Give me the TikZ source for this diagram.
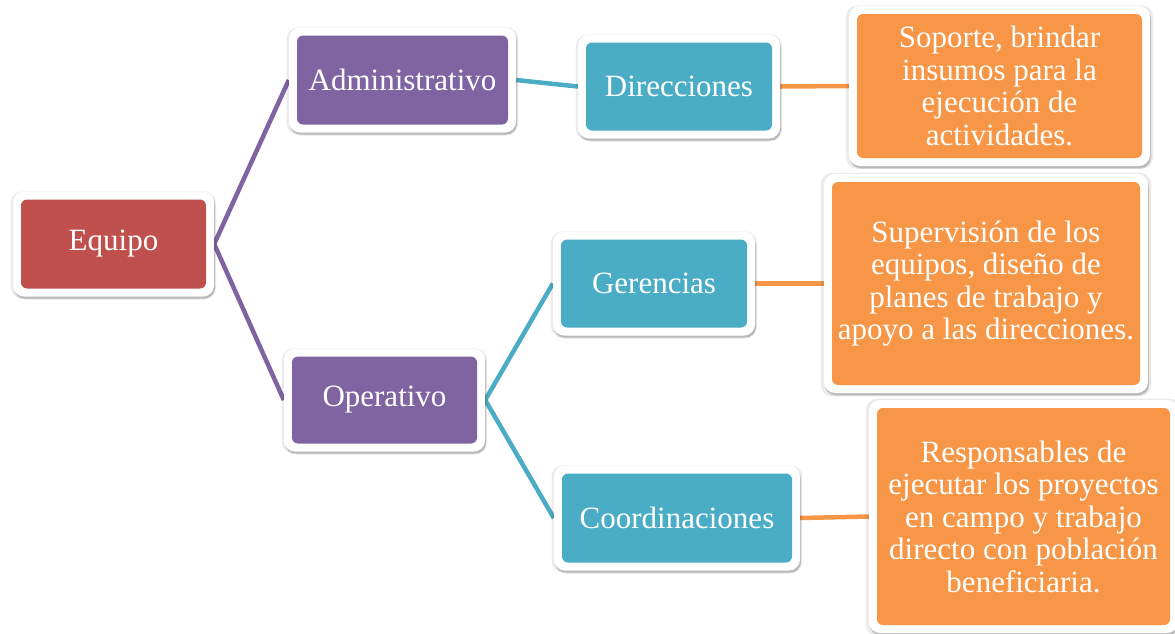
\documentclass[tikz,border=0pt]{standalone}
\usepackage{fontspec}
\setmainfont{Liberation Serif}
\usetikzlibrary{shadows,backgrounds,calc}
\definecolor{cred}{HTML}{C0504D}
\definecolor{cpurple}{HTML}{8064A2}
\definecolor{cteal}{HTML}{4BACC6}
\definecolor{corange}{HTML}{F79646}
\tikzset{
  tile/.style={rectangle, rounded corners=11pt, fill=white, inner sep=0pt,
    align=center, text=white, font=\fontsize{31}{32.5}\selectfont,
    general shadow={shadow xshift=0pt, shadow yshift=-1pt, shadow scale=1.02, opacity=0.08, fill=black},
    general shadow={shadow xshift=1pt, shadow yshift=-3pt, opacity=0.10, fill=black},
    general shadow={shadow xshift=1pt, shadow yshift=-2pt, opacity=0.12, fill=black},
    path picture={\fill[#1, rounded corners=6pt]
      ([shift={(8pt,8pt)}]path picture bounding box.south west) rectangle
      ([shift={(-8pt,-8pt)}]path picture bounding box.north east);}},
  link/.style={line width=4.5pt, draw=#1},
}
\begin{document}
\begin{tikzpicture}[x=1pt,y=-1pt]
\useasboundingbox (0,0) rectangle (1175,633);
\node[tile=cred, minimum width=201pt, minimum height=105pt] (eq) at (113.5,244) {Equipo};
\node[tile=cpurple, minimum width=227pt, minimum height=105pt] (adm) at (402.5,80) {Administrativo};
\node[tile=cpurple, minimum width=201pt, minimum height=103pt] (ope) at (384.5,400) {Operativo};
\node[tile=cteal, minimum width=202pt, minimum height=104pt] (dir) at (679,86.5) {Direcciones};
\node[tile=cteal, minimum width=202pt, minimum height=104pt] (ger) at (654,283.5) {Gerencias};
\node[tile=cteal, minimum width=246pt, minimum height=105pt] (coo) at (677,518) {Coordinaciones};
\node[tile=corange, minimum width=301pt, minimum height=160pt] (sop) at (999.5,86)
  {Soporte, brindar\\insumos para la\\ejecución de\\actividades.};
\node[tile=corange, minimum width=324pt, minimum height=219pt] (sup) at (986,283.5)
  {Supervisión de los\\equipos, diseño de\\planes de trabajo y\\apoyo a las direcciones.};
\node[tile=corange, minimum width=309pt, minimum height=233pt] (res) at (1023.5,516.5)
  {Responsables de\\ejecutar los proyectos\\en campo y trabajo\\directo con población\\beneficiaria.};
\begin{scope}[on background layer]
\draw[link=cpurple] (adm.west) -- (eq.east) -- (ope.west);
\draw[link=cteal] (ger.west) -- (ope.east) -- (coo.west);
\draw[link=cteal] (adm.east) -- (dir.west);
\draw[link=corange] (dir.east) -- (sop.west);
\draw[link=corange] (ger.east) -- (sup.west);
\draw[link=corange] (coo.east) -- (res.west);
\end{scope}
\end{tikzpicture}
\end{document}
